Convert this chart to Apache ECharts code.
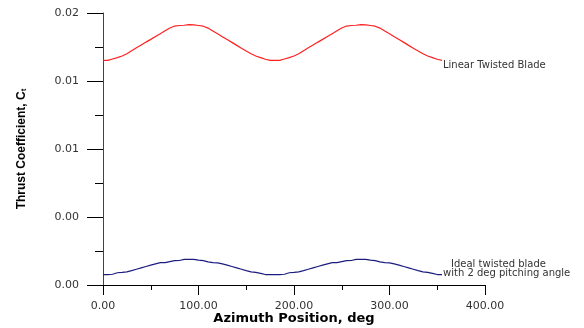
<!DOCTYPE html>
<html><head><meta charset="utf-8">
<script src="https://cdn.jsdelivr.net/npm/echarts@6/dist/echarts.min.js"></script>
<style>html,body{margin:0;padding:0;background:#fff}#c{width:584px;height:328px}</style>
</head><body><div id="c"></div>
<script>
const azimuth = [0,5,10,15,20,25,30,35,40,45,50,55,60,65,70,75,80,85,90,95,100,105,110,115,120,125,130,135,140,145,150,155,160,165,170,175,
  180,185,190,195,200,205,210,215,220,225,230,235,240,245,250,255,260,265,270,275,280,285,290,295,300,305,310,315,320,325,330,335,340,345,350,355];
const linearTwisted = [0.01652,0.01652,0.01662,0.01672,0.01684,0.01700,0.01723,0.01744,0.01765,0.01786,0.01806,0.01827,0.01848,0.01869,0.01890,0.01904,0.01908,0.01910,0.01915,0.01912,0.01908,0.01903,0.01889,0.01868,0.01847,0.01826,0.01805,0.01784,0.01762,0.01741,0.01720,0.01700,0.01684,0.01672,0.01660,0.01652,
  0.01652,0.01652,0.01662,0.01672,0.01684,0.01700,0.01723,0.01744,0.01765,0.01786,0.01806,0.01827,0.01848,0.01869,0.01890,0.01904,0.01908,0.01910,0.01915,0.01912,0.01908,0.01903,0.01889,0.01868,0.01847,0.01826,0.01805,0.01784,0.01762,0.01741,0.01720,0.01700,0.01684,0.01672,0.01660,0.01652];
const idealTwisted = [0.00076,0.00076,0.00079,0.00090,0.00093,0.00097,0.00106,0.00116,0.00126,0.00136,0.00146,0.00155,0.00164,0.00165,0.00172,0.00179,0.00180,0.00188,0.00189,0.00189,0.00183,0.00179,0.00170,0.00165,0.00163,0.00155,0.00146,0.00136,0.00126,0.00116,0.00106,0.00097,0.00093,0.00085,0.00077,0.00076,
  0.00076,0.00076,0.00079,0.00090,0.00093,0.00097,0.00106,0.00116,0.00126,0.00136,0.00146,0.00155,0.00164,0.00165,0.00172,0.00179,0.00180,0.00188,0.00189,0.00189,0.00183,0.00179,0.00170,0.00165,0.00163,0.00155,0.00146,0.00136,0.00126,0.00116,0.00106,0.00097,0.00093,0.00085,0.00077,0.00076];
const yTickLabels = ['0.00','0.00','0.01','0.01','0.02'];
const xTickLabels = ['0.00','100.00','200.00','300.00','400.00'];
const seriesNames = ['Linear Twisted Blade', 'Ideal twisted blade', 'with 2 deg pitching angle'];

const chart = echarts.init(document.getElementById('c'), null, {renderer:'canvas'});
const lblFont = {fontFamily:'DejaVu Sans', fontSize:11, color:'#333'};
chart.setOption({
  animation:false,
  backgroundColor:'#fff',
  grid:{left:103, right:99, top:13, bottom:43, containLabel:false, outerBoundsMode:'none'},
  xAxis:{
    type:'value', min:0, max:400, interval:100,
    axisLine:{show:true, onZero:false, lineStyle:{color:'#000', width:1}},
    axisTick:{show:true, length:10, lineStyle:{color:'#000'}},
    minorTick:{show:true, splitNumber:2, length:5, lineStyle:{color:'#000'}},
    splitLine:{show:false},
    axisLabel:Object.assign({margin:16, formatter:(v)=>xTickLabels[Math.round(v/100)]}, lblFont),
    name:'Azimuth Position, deg', nameLocation:'middle', nameGap:27, nameMoveOverlap:false,
    nameTextStyle:{fontFamily:'DejaVu Sans', fontWeight:'bold', fontSize:13, color:'#000'}
  },
  yAxis:{
    type:'value', min:0, max:0.02, interval:0.005,
    axisLine:{show:true, onZero:false, lineStyle:{color:'#444', width:1}},
    axisTick:{show:true, length:16, lineStyle:{color:'#000'}},
    minorTick:{show:true, splitNumber:2, length:8, lineStyle:{color:'#000'}},
    splitLine:{show:false},
    axisLabel:Object.assign({margin:24, formatter:(v)=>yTickLabels[Math.round(v/0.005)]}, lblFont),
    name:'Thrust Coefficient, C{sub|t}', nameLocation:'middle', nameGap:75, nameRotate:90, nameMoveOverlap:false,
    nameTextStyle:{fontFamily:'Liberation Sans', fontWeight:'bold', fontSize:12, color:'#000',
      rich:{sub:{fontFamily:'Liberation Sans', fontWeight:'bold', fontSize:8, color:'#000', padding:[4,0,0,0]}}}
  },
  series:[
    {type:'line', name:seriesNames[0], data:azimuth.map((a,i)=>[a, linearTwisted[i]]),
     showSymbol:false, symbol:'none', lineStyle:{color:'#ff2020', width:1.2}, itemStyle:{color:'#ff2020'},
     endLabel:{show:true, distance:1, offset:[0,5], formatter:seriesNames[0],
       fontFamily:'DejaVu Sans', fontSize:10, color:'#333'}},
    {type:'line', name:seriesNames[1], data:azimuth.map((a,i)=>[a, idealTwisted[i]]),
     showSymbol:false, symbol:'none', lineStyle:{color:'#1c1c80', width:1.2}, itemStyle:{color:'#1c1c80'},
     endLabel:{show:true, distance:1, offset:[0,-6], formatter:'{a|'+seriesNames[1]+'}\n{b|'+seriesNames[2]+'}',
       fontFamily:'DejaVu Sans', fontSize:10, color:'#333', lineHeight:9,
       rich:{a:{fontFamily:'DejaVu Sans', fontSize:10, color:'#333', lineHeight:9, padding:[0,0,0,8]},
             b:{fontFamily:'DejaVu Sans', fontSize:10, color:'#333', lineHeight:9}}}}
  ]
});
</script></body></html>
